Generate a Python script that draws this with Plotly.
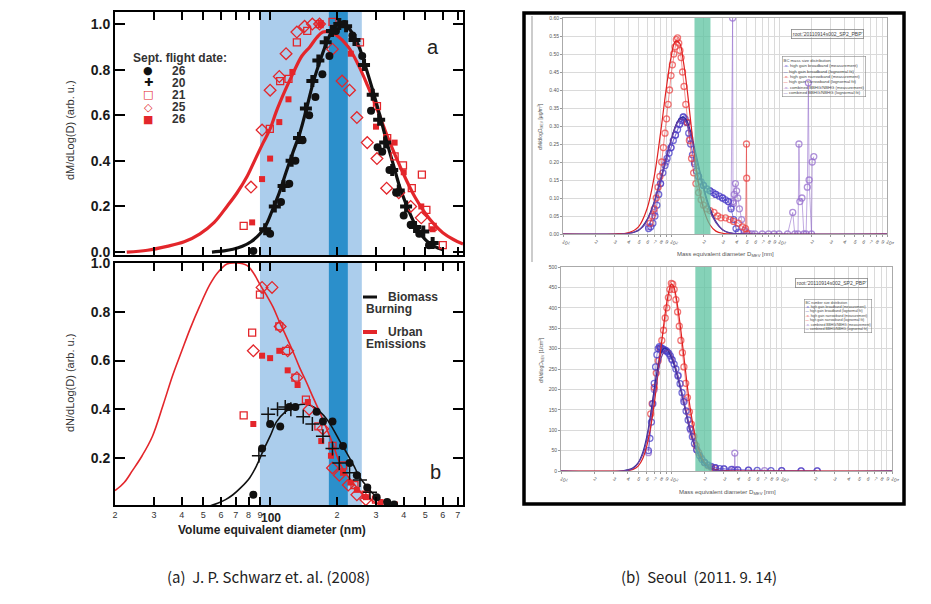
import plotly.graph_objects as go
import numpy as np

W, H = 931, 604          # reference picture size
OFF = 8                  # page body margin of the browser
FW, FH = W - OFF, H - OFF - 8

# ---------------- Panel (a): mass size distribution (Schwarz et al. 2008)
a_black_fit_d = [54.7, 62, 68, 75, 82, 90, 96, 102, 110, 118, 127, 136, 146, 156, 168, 180, 190, 200, 211, 222,
                 238, 254, 272, 290, 312, 334, 360, 384, 410, 440, 470, 506, 550, 600]
a_black_fit_y = [0.0, 0.005, 0.012, 0.025, 0.045, 0.08, 0.12, 0.18, 0.26, 0.35, 0.44, 0.52, 0.63, 0.74, 0.84, 0.92,
                 0.97, 0.995, 1.0, 0.99, 0.95, 0.89, 0.80, 0.71, 0.60, 0.49, 0.38, 0.285, 0.21, 0.14, 0.09, 0.05,
                 0.025, 0.01]
a_red_fit_d = [22.6, 28, 34.3, 41, 48.3, 56, 63.9, 71, 78.6, 86, 93.1, 100, 107, 117, 127, 139, 151, 162, 173, 185,
               200, 225, 250, 275, 300, 325, 350, 400, 450, 500, 550, 600, 670, 740]
a_red_fit_y = [0.0, 0.008, 0.025, 0.045, 0.08, 0.13, 0.20, 0.26, 0.33, 0.41, 0.48, 0.54, 0.62, 0.71, 0.785, 0.86,
               0.90, 0.94, 0.965, 0.965, 0.95, 0.90, 0.82, 0.73, 0.64, 0.55, 0.47, 0.34, 0.24, 0.17, 0.12, 0.085,
               0.055, 0.035]

a_c26_d = [84, 100, 112, 122, 130, 140, 150, 160, 172, 185, 198, 215, 235, 260, 285, 305, 320, 345, 370, 400, 430, 470, 520]
a_c26_y = [0.005, 0.08, 0.22, 0.30, 0.40, 0.49, 0.60, 0.68, 0.78, 0.86, 0.97, 1.0, 0.95, 0.86, 0.62, 0.46, 0.44, 0.36,
           0.26, 0.16, 0.12, 0.08, 0.03]
a_p20_d = [95, 105, 115, 125, 135, 145, 155, 165, 178, 190, 205, 220, 240, 265, 290, 310, 330, 355, 380, 410, 450, 490, 540]
a_p20_y = [0.10, 0.20, 0.29, 0.40, 0.50, 0.63, 0.75, 0.84, 0.92, 0.97, 1.0, 0.99, 0.93, 0.82, 0.69, 0.58, 0.48, 0.36,
           0.27, 0.20, 0.11, 0.09, 0.04]
a_s21_d = [76, 99.7, 111, 121, 132, 147, 167, 191, 254, 303, 337, 364, 397, 435, 483, 506, 540, 600]
a_s21_y = [0.115, 0.54, 0.75, 0.76, 0.92, 0.97, 1.0, 1.01, 0.92, 0.64, 0.50, 0.42, 0.38, 0.28, 0.34, 0.185, 0.11, 0.03]
a_d25_d = [82, 92, 100, 110, 118, 132, 143, 155, 167, 191, 211, 228, 246, 274, 303, 335, 380, 430, 480]
a_d25_y = [0.285, 0.535, 0.71, 0.77, 0.87, 0.965, 0.99, 1.0, 1.0, 0.89, 0.75, 0.71, 0.59, 0.48, 0.41, 0.28, 0.26, 0.2, 0.15]
a_f26_d = [83, 92, 100, 110, 121, 126, 169, 231, 300, 364, 400, 480, 540]
a_f26_y = [0.13, 0.32, 0.41, 0.57, 0.67, 0.79, 1.0, 0.87, 0.55, 0.48, 0.35, 0.2, 0.1]

# ---------------- Panel (b): number size distribution
b_black_fit_d = [51.8, 58, 63, 68, 74, 81, 87, 93, 100, 107, 117, 127, 137, 147, 157, 168, 180, 192, 206, 222, 238,
                 254, 272, 290, 320, 348]
b_black_fit_y = [0.0, 0.015, 0.03, 0.05, 0.08, 0.12, 0.17, 0.23, 0.29, 0.35, 0.39, 0.41, 0.42, 0.42, 0.41, 0.39, 0.36,
                 0.32, 0.27, 0.22, 0.17, 0.12, 0.085, 0.055, 0.025, 0.01]
b_red_fit_d = [20, 22, 24, 26.5, 29.5, 33, 36.4, 40, 43.6, 48, 53.4, 58, 63.9, 70.7, 78.6, 84, 90.2, 96, 103, 110, 118,
               127, 136, 146, 156, 168, 180, 193, 206, 220, 236, 254, 272, 295, 322, 350]
b_red_fit_y = [0.067, 0.10, 0.15, 0.21, 0.29, 0.42, 0.54, 0.64, 0.73, 0.82, 0.91, 0.96, 0.996, 1.0, 0.99, 0.96, 0.91,
               0.87, 0.82, 0.76, 0.70, 0.635, 0.57, 0.51, 0.45, 0.385, 0.32, 0.25, 0.18, 0.135, 0.10, 0.065, 0.04,
               0.02, 0.005, 0.0]
b_c26_d = [84, 92, 100, 111, 122, 130, 162, 173, 191, 213, 228, 246, 274, 302, 337, 362]
b_c26_y = [0.05, 0.24, 0.34, 0.33, 0.41, 0.41, 0.39, 0.35, 0.35, 0.25, 0.18, 0.13, 0.08, 0.04, 0.02, 0.01]
b_p20_d = [89, 98, 108, 117, 124, 141, 155, 173, 191, 205, 228, 254, 282]
b_p20_y = [0.21, 0.38, 0.40, 0.41, 0.40, 0.37, 0.34, 0.29, 0.24, 0.18, 0.14, 0.11, 0.06]
b_s21_d = [76, 83, 90, 110, 118, 130, 145, 165, 191, 213, 240, 270, 300]
b_s21_y = [0.375, 0.715, 0.87, 0.74, 0.64, 0.53, 0.44, 0.33, 0.25, 0.17, 0.09, 0.05, 0.03]
b_d25_d = [84, 92, 102, 111, 120, 132, 150, 173, 191, 205, 225, 246, 270]
b_d25_y = [0.64, 0.90, 0.90, 0.74, 0.64, 0.53, 0.40, 0.32, 0.16, 0.13, 0.09, 0.05, 0.03]
b_f26_d = [84, 92, 100, 110, 120, 133, 148, 170, 188, 213, 230, 246, 270, 315, 365]
b_f26_y = [0.34, 0.62, 0.61, 0.64, 0.56, 0.50, 0.43, 0.27, 0.21, 0.14, 0.10, 0.07, 0.04, 0.02, 0.01]

band_light = [90, 259]
band_dark = [184, 224]
left_ticks = [20, 30, 40, 50, 60, 70, 80, 90, 100, 200, 300, 400, 500, 600, 700]
left_ticktext = ["2", "3", "4", "5", "6", "7", "8", "9", " ", "2", "3", "4", "5", "6", "7"]
left_yticks = [0.0, 0.2, 0.4, 0.6, 0.8, 1.0]
flight_dates = ["26", "20", "21", "25", "26"]

# ---------------- Panel (c): Seoul mass distribution
m_bb_d = [62, 65, 68, 71, 74, 77, 80, 84, 88, 92, 96, 100, 105, 110, 115, 120, 125, 130, 135, 140, 146, 152, 158,
          165, 172, 180, 190, 200, 215, 230, 245, 260, 280, 300, 320, 340, 360, 380, 400, 420]
m_bb_y = [0.015, 0.02, 0.03, 0.05, 0.08, 0.11, 0.14, 0.17, 0.19, 0.21, 0.225, 0.24, 0.26, 0.275, 0.29, 0.305, 0.315,
          0.325, 0.32, 0.31, 0.28, 0.25, 0.22, 0.195, 0.175, 0.16, 0.145, 0.135, 0.125, 0.12, 0.115, 0.11, 0.105,
          0.10, 0.095, 0.09, 0.07, 0.04, 0.015, 0.005]
m_bbfit_d = [10, 30, 40, 50, 60, 70, 80, 90, 100, 110, 120, 130, 140, 150, 165, 180, 200, 230, 260, 300, 350, 400, 500, 10000]
m_bbfit_y = [0, 0, 0.002, 0.01, 0.04, 0.09, 0.15, 0.21, 0.26, 0.30, 0.32, 0.325, 0.315, 0.29, 0.24, 0.19, 0.13, 0.07,
             0.035, 0.012, 0.003, 0.001, 0, 0]
m_nb_d = [64, 67, 70, 73, 76, 79, 82, 85, 88, 91, 94, 97, 100, 103, 106, 109, 112, 115, 118, 121, 124, 128, 132, 137,
          142, 148, 155, 162, 170, 180, 190, 200, 215, 230, 250, 270, 290, 320, 350, 380, 420, 460, 490, 500, 502, 505]
m_nb_y = [0.03, 0.05, 0.07, 0.1, 0.13, 0.16, 0.2, 0.24, 0.28, 0.32, 0.36, 0.40, 0.44, 0.47, 0.50, 0.52, 0.54, 0.545,
          0.53, 0.51, 0.49, 0.45, 0.41, 0.36, 0.31, 0.26, 0.21, 0.17, 0.14, 0.115, 0.095, 0.08, 0.07, 0.065, 0.06,
          0.05, 0.045, 0.045, 0.04, 0.035, 0.03, 0.02, 0.015, 0.25, 0.155, 0.0]
m_nbfit_d = [10, 30, 40, 50, 60, 70, 80, 90, 100, 110, 120, 130, 140, 150, 165, 180, 200, 230, 260, 300, 400, 10000]
m_nbfit_y = [0, 0, 0.003, 0.02, 0.07, 0.16, 0.28, 0.40, 0.49, 0.535, 0.53, 0.48, 0.41, 0.33, 0.22, 0.14, 0.07, 0.025,
             0.008, 0.002, 0, 0]
m_cb_d = [62, 70, 80, 90, 100, 110, 120, 130, 140, 150, 165, 180, 200, 230, 260, 300, 340, 360, 372, 375, 378, 385,
          395, 405, 415, 430, 450, 480, 500, 520, 560, 600, 700, 800, 900, 1000, 1200, 1340, 1400, 1500, 1530, 1560,
          1630, 1700, 1780, 1830, 1870, 1900, 2000, 2030, 2100]
m_cb_y = [0.02, 0.06, 0.14, 0.2, 0.24, 0.275, 0.305, 0.325, 0.31, 0.265, 0.2, 0.16, 0.135, 0.12, 0.11, 0.1, 0.09,
          0.075, 0.6, 0.09, 0.085, 0.11, 0.14, 0.12, 0.1, 0.07, 0.04, 0.01, 0.005, 0.002, 0, 0, 0, 0, 0, 0, 0, 0.06,
          0, 0, 0.25, 0.09, 0.1, 0, 0, 0.13, 0.42, 0.15, 0, 0.2, 0.215]
m_cbfit_d = [10, 35, 45, 55, 65, 75, 85, 95, 105, 115, 125, 135, 145, 160, 175, 190, 210, 240, 280, 330, 400, 10000]
m_cbfit_y = [0, 0, 0.005, 0.02, 0.06, 0.12, 0.18, 0.235, 0.28, 0.31, 0.32, 0.315, 0.295, 0.25, 0.2, 0.155, 0.1, 0.05,
             0.02, 0.005, 0.001, 0]

# ---------------- Panel (d): Seoul number distribution
n_bb_d = [62, 64, 66, 68, 70, 72, 74, 76, 78, 80, 83, 86, 89, 92, 95, 98, 102, 106, 110, 115, 120, 125, 130, 136, 142,
          148, 155, 162, 170, 180, 190, 200, 215, 230, 250, 275, 300, 350, 400, 500, 600, 800, 1000, 1500, 2100]
n_bb_y = [50, 80, 120, 165, 215, 255, 285, 300, 305, 303, 300, 298, 295, 292, 288, 282, 272, 262, 250, 233, 214, 192,
          170, 147, 125, 104, 84, 67, 52, 38, 28, 21, 15, 11, 8, 6, 5, 4, 3, 2, 1.5, 1, 1, 0.5, 0.5]
n_bbfit_d = [10, 35, 40, 45, 50, 55, 60, 65, 70, 75, 80, 85, 90, 100, 110, 120, 130, 140, 150, 165, 180, 200, 230, 270, 350, 10000]
n_bbfit_y = [0, 0, 3, 8, 20, 45, 85, 140, 200, 250, 285, 300, 300, 280, 245, 205, 165, 125, 92, 58, 35, 17, 6, 2, 0, 0]
n_nb_d = [65, 67, 70, 73, 76, 79, 82, 85, 88, 91, 94, 97, 100, 103, 106, 110, 114, 118, 122, 126, 130, 135, 140, 146,
          152, 160, 168, 177, 187, 200, 215, 230, 250]
n_nb_y = [140, 165, 205, 240, 270, 300, 320, 345, 375, 400, 425, 445, 460, 458, 445, 420, 390, 355, 320, 290, 255, 215,
          180, 145, 115, 85, 62, 45, 32, 20, 13, 9, 6]
n_nbfit_d = [10, 35, 40, 45, 50, 55, 60, 65, 70, 75, 80, 85, 90, 95, 100, 105, 110, 120, 130, 140, 150, 165, 180, 200,
             230, 270, 350, 10000]
n_nbfit_y = [0, 0, 1, 4, 12, 30, 62, 108, 165, 230, 295, 355, 405, 440, 458, 452, 430, 360, 280, 205, 145, 85, 48, 20,
             6, 1, 0, 0]
n_cb_d = [62, 70, 80, 90, 100, 115, 130, 150, 170, 200, 250, 300, 360, 374, 376, 378, 400, 500, 700, 1000, 1500, 2100]
n_cb_y = [45, 200, 300, 295, 275, 235, 175, 100, 52, 21, 8, 5, 4, 3, 44, 3, 3, 2, 1, 1, 0.5, 0.5]
n_cbfit_d = [10, 35, 45, 55, 65, 75, 85, 95, 105, 120, 135, 150, 170, 200, 240, 300, 10000]
n_cbfit_y = [0, 0, 6, 40, 130, 235, 290, 295, 270, 210, 145, 95, 50, 18, 4, 0, 0]

band_green = [165, 232]
right_ticks = [k * 10 ** e for e in (1, 2, 3) for k in range(1, 10)] + [10000]
right_ticktext = [("10<sup>%d</sup>" % e if k == 1 else str(k)) for e in (1, 2, 3) for k in range(1, 10)] + ["10<sup>4</sup>"]
legend_lines_mass = ["BC mass size distribution",
                     "high gain broadband (measurement)", "high gain broadband (lognormal fit)",
                     "high gain narrowband (measurement)", "high gain narrowband (lognormal fit)",
                     "combined BBHG/NBHG (measurement)", "combined BBHG/NBHG (lognormal fit)"]
legend_lines_num = ["BC number size distribution"] + legend_lines_mass[1:]


def px(x):
    return (x - OFF) / FW


def py(y):
    return 1 - (y - OFF) / FH


fig = go.Figure()
RED = "#e3262b"
BLK = "#111111"


def add_left(d, y, ax, mode, **kw):
    fig.add_trace(go.Scatter(x=d, y=y, mode=mode, xaxis="x" + ax, yaxis="y" + ax, showlegend=False,
                             hoverinfo="skip", **kw))


for ax, lw, data in [
    ("", 3.2, (a_red_fit_d, a_red_fit_y, a_black_fit_d, a_black_fit_y,
               a_c26_d, a_c26_y, a_p20_d, a_p20_y, a_s21_d, a_s21_y, a_d25_d, a_d25_y, a_f26_d, a_f26_y)),
    ("2", 1.6, (b_red_fit_d, b_red_fit_y, b_black_fit_d, b_black_fit_y,
                b_c26_d, b_c26_y, b_p20_d, b_p20_y, b_s21_d, b_s21_y, b_d25_d, b_d25_y, b_f26_d, b_f26_y))]:
    rd, ry, bd, by, cd, cy, pd_, py_, sd, sy, dd, dy, fd, fy = data
    add_left(rd, ry, ax, "lines", line=dict(color=RED, width=lw, shape="spline"))
    add_left(bd, by, ax, "lines", line=dict(color=BLK, width=lw, shape="spline"))
    add_left(sd, sy, ax, "markers", marker=dict(symbol="square-open", size=7, color=RED, line=dict(width=1.3)))
    add_left(dd, dy, ax, "markers", marker=dict(symbol="diamond-open", size=9, color=RED, line=dict(width=1.3)))
    add_left(fd, fy, ax, "markers", marker=dict(symbol="square", size=6, color=RED))
    add_left(cd, cy, ax, "markers", marker=dict(symbol="circle", size=8, color=BLK))
    if ax == "":
        add_left(pd_, py_, ax, "markers", marker=dict(symbol="cross", size=10, color=BLK))
    else:
        add_left(pd_, py_, ax, "markers", marker=dict(symbol="cross-thin-open", size=10, color=BLK,
                                                      line=dict(width=1.5, color=BLK)))


def add_right(d, y, ax, kind, color):
    if kind == "meas":
        fig.add_trace(go.Scatter(x=d, y=y, mode="lines+markers", xaxis="x" + ax, yaxis="y" + ax, showlegend=False,
                                 hoverinfo="skip", line=dict(color=color, width=0.8),
                                 marker=dict(symbol="circle-open", size=6, color=color, line=dict(width=1.3))))
    else:
        fig.add_trace(go.Scatter(x=d, y=y, mode="lines", xaxis="x" + ax, yaxis="y" + ax, showlegend=False,
                                 hoverinfo="skip", line=dict(color=color, width=1.2, shape="spline")))


BLUE_M = "rgba(70,60,200,0.75)"
RED_M = "rgba(235,60,60,0.7)"
PUR_M = "rgba(150,110,205,0.75)"
add_right(m_cb_d, m_cb_y, "3", "meas", PUR_M)
add_right(m_bb_d, m_bb_y, "3", "meas", BLUE_M)
add_right(m_nb_d, m_nb_y, "3", "meas", RED_M)
add_right(m_bbfit_d, m_bbfit_y, "3", "fit", "#2b2b9a")
add_right(m_nbfit_d, m_nbfit_y, "3", "fit", "#e02020")
add_right(m_cbfit_d, m_cbfit_y, "3", "fit", "#6a3fa0")
add_right(n_cb_d, n_cb_y, "4", "meas", PUR_M)
add_right(n_nb_d, n_nb_y, "4", "meas", RED_M)
add_right(n_bb_d, n_bb_y, "4", "meas", BLUE_M)
add_right(n_bbfit_d, n_bbfit_y, "4", "fit", "#2b2b9a")
add_right(n_nbfit_d, n_nbfit_y, "4", "fit", "#e02020")
add_right(n_cbfit_d, n_cbfit_y, "4", "fit", "#6a3fa0")

FONT_B = dict(family="Liberation Sans", size=14, color="#1a1a1a", weight="bold")
left_x = dict(type="log", range=[np.log10(20), np.log10(740)], showline=True, linewidth=2, linecolor="black",
              mirror="ticks", ticks="inside", ticklen=8, tickwidth=2, tickcolor="black", tickvals=left_ticks,
              showgrid=False, zeroline=False, domain=[px(115), px(463)], automargin=False)
left_y = dict(showline=True, linewidth=2, linecolor="black", mirror="ticks", ticks="inside", ticklen=10,
              tickwidth=2, tickcolor="black", tickvals=left_yticks, ticktext=["%.1f" % v for v in left_yticks],
              showgrid=False, zeroline=False, tickfont=FONT_B, automargin=False)

grid = "#dadada"
right_x = dict(type="log", range=[1, 4], showline=True, linewidth=1, linecolor="#aaaaaa", mirror=True,
               ticks="outside", ticklen=2, tickcolor="#999", tickvals=right_ticks, ticktext=right_ticktext,
               showgrid=True, gridcolor=grid, gridwidth=1, zeroline=False, automargin=False,
               tickfont=dict(family="Liberation Sans", size=5, color="#555"))
right_y = dict(showline=True, linewidth=1, linecolor="#aaaaaa", mirror=True, ticks="outside", ticklen=2,
               tickcolor="#999", showgrid=True, gridcolor=grid, gridwidth=1, zeroline=False, automargin=False,
               tickfont=dict(family="Liberation Sans", size=5, color="#555"))

fig.update_layout(
    width=FW, height=FH, margin=dict(l=0, r=0, t=0, b=0, pad=0, autoexpand=False), paper_bgcolor="white",
    plot_bgcolor="white", showlegend=False,
    xaxis=dict(left_x, anchor="y", showticklabels=False),
    yaxis=dict(left_y, anchor="x", range=[-0.013, 1.053], domain=[py(255), py(12)]),
    xaxis2=dict(left_x, anchor="y2", ticktext=left_ticktext,
                tickfont=dict(family="Liberation Sans", size=9, color="#333")),
    yaxis2=dict(left_y, anchor="x2", range=[0.008, 1.0], domain=[py(505), py(263)],
                tickvals=left_yticks[1:], ticktext=["%.1f" % v for v in left_yticks[1:]]),
    xaxis3=dict(right_x, anchor="y3", domain=[px(563), px(887)]),
    yaxis3=dict(right_y, anchor="x3", range=[0, 0.6], dtick=0.05, tickformat=".2f", domain=[py(234), py(18)]),
    xaxis4=dict(right_x, anchor="y4", domain=[px(561), px(892)]),
    yaxis4=dict(right_y, anchor="x4", range=[0, 500], dtick=50, domain=[py(471), py(267)]),
)

shapes = []
for yr in ("y", "y2"):
    xr = "x" if yr == "y" else "x2"
    shapes.append(dict(type="rect", xref=xr, yref=yr + " domain", x0=band_light[0], x1=band_light[1], y0=0, y1=1,
                       fillcolor="#abcdec", line=dict(width=0), layer="below"))
    shapes.append(dict(type="rect", xref=xr, yref=yr + " domain", x0=band_dark[0], x1=band_dark[1], y0=0, y1=1,
                       fillcolor="#2b8fcb", line=dict(width=0), layer="below"))
for xr, yr in (("x3", "y3"), ("x4", "y4")):
    shapes.append(dict(type="rect", xref=xr, yref=yr + " domain", x0=band_green[0], x1=band_green[1], y0=0, y1=1,
                       fillcolor="#5cc3a0", opacity=0.75, line=dict(width=0), layer="above"))
# panel (b) legend line samples
shapes.append(dict(type="line", xref="paper", yref="paper", x0=px(363), x1=px(377), y0=py(297), y1=py(297),
                   line=dict(color=BLK, width=3)))
shapes.append(dict(type="line", xref="paper", yref="paper", x0=px(363), x1=px(377), y0=py(332), y1=py(332),
                   line=dict(color=RED, width=4)))
# frame of right figure
shapes.append(dict(type="rect", xref="paper", yref="paper", x0=px(524), x1=px(904), y0=py(504), y1=py(13),
                   line=dict(color="black", width=3.5)))
shapes.append(dict(type="line", xref="paper", yref="paper", x0=px(532), x1=px(532), y0=py(262), y1=py(16),
                   line=dict(color="#999", width=1)))
fig.update_layout(shapes=shapes)

ann = []


def A(text, x, y, size=13, color="#1a1a1a", bold=False, family="Liberation Sans", xanchor="center", **kw):
    f = dict(family=family, size=size, color=color)
    if bold:
        f["weight"] = "bold"
    ann.append(dict(text=text, x=px(x), y=py(y), xref="paper", yref="paper", showarrow=False, font=f,
                    xanchor=xanchor, yanchor="middle", **kw))


A("dM/dLog(D) (arb. u.)", 70, 130, size=11, color="#333", textangle=-90)
A("dN/dLog(D) (arb. u.)", 70, 383, size=11, color="#333", textangle=-90)
A("a", 433, 47, size=20, color="#222")
A("b", 435, 472, size=20, color="#222")
A("Sept. flight date:", 131, 58, size=12, bold=True, xanchor="left", color="#333")
sym = [("●", BLK), ("✚", BLK), ("□", RED), ("◇", RED), ("■", RED)]
for i, (lab, (s, c)) in enumerate(zip(flight_dates, sym)):
    yy = 70.5 + i * 12.2
    A(s, 148, yy, size=11, color=c, family="DejaVu Sans")
    A(lab, 170, yy, size=12, bold=True, xanchor="left", color="#333")
A("Biomass", 386, 297, size=12, bold=True, xanchor="left", color="#333")
A("Burning", 364, 309, size=12, bold=True, xanchor="left", color="#333")
A("Urban", 386, 332, size=12, bold=True, xanchor="left", color="#333")
A("Emissions", 364, 344, size=12, bold=True, xanchor="left", color="#333")
A("100", 271, 518, size=12, bold=True, color="#222")
A("Volume equivalent diameter (nm)", 272, 530, size=12, bold=True, color="#222")

A("dM/dlogD<sub>MEV</sub> [μg/m<sup>3</sup>]", 541, 127, size=5, color="#555", textangle=-90)
A("dN/dlogD<sub>MEV</sub> [1/cm<sup>3</sup>]", 541, 360, size=5, color="#555", textangle=-90)
A("Mass equivalent diameter D<sub>MEV</sub> [nm]", 725, 255, size=6, color="#555")
A("Mass equivalent diameter D<sub>MEV</sub> [nm]", 727, 492, size=6, color="#555")
A("root:'20110914s002_SP2_PBP'", 827, 34, size=5, color="#444", bordercolor="#888", borderwidth=0.8, borderpad=1)
A("root:'20110914s002_SP2_PBP'", 831, 283, size=5, color="#444", bordercolor="#888", borderwidth=0.8, borderpad=1)

marks = [None, ("-o-", "#4a40c8"), ("—", "#2b2b9a"), ("-o-", "#e84848"), ("—", "#e02020"), ("-o-", "#9a70cc"),
         ("—", "#5a3a9a")]


def legend_text(lines):
    out = []
    for ln, mk in zip(lines, marks):
        if mk is None:
            out.append(ln)
        else:
            out.append("<span style='color:%s'>%s</span> %s" % (mk[1], mk[0], ln))
    return "<br>".join(out)


A(legend_text(legend_lines_mass), 824, 77, size=4.2, color="#444", align="left", bordercolor="#888",
  borderwidth=0.6, borderpad=1)
A(legend_text(legend_lines_num), 838, 316, size=3.4, color="#444", align="left", bordercolor="#888",
  borderwidth=0.6, borderpad=1)

A("(a)  J. P. Schwarz et. al. (2008)", 268, 576, size=15, color="#222", family="Noto Sans CJK KR")
A("(b)  Seoul  (2011. 9. 14)", 699, 576, size=15, color="#222", family="Noto Sans CJK KR")

fig.update_layout(annotations=ann)
fig.write_html("out.html")
